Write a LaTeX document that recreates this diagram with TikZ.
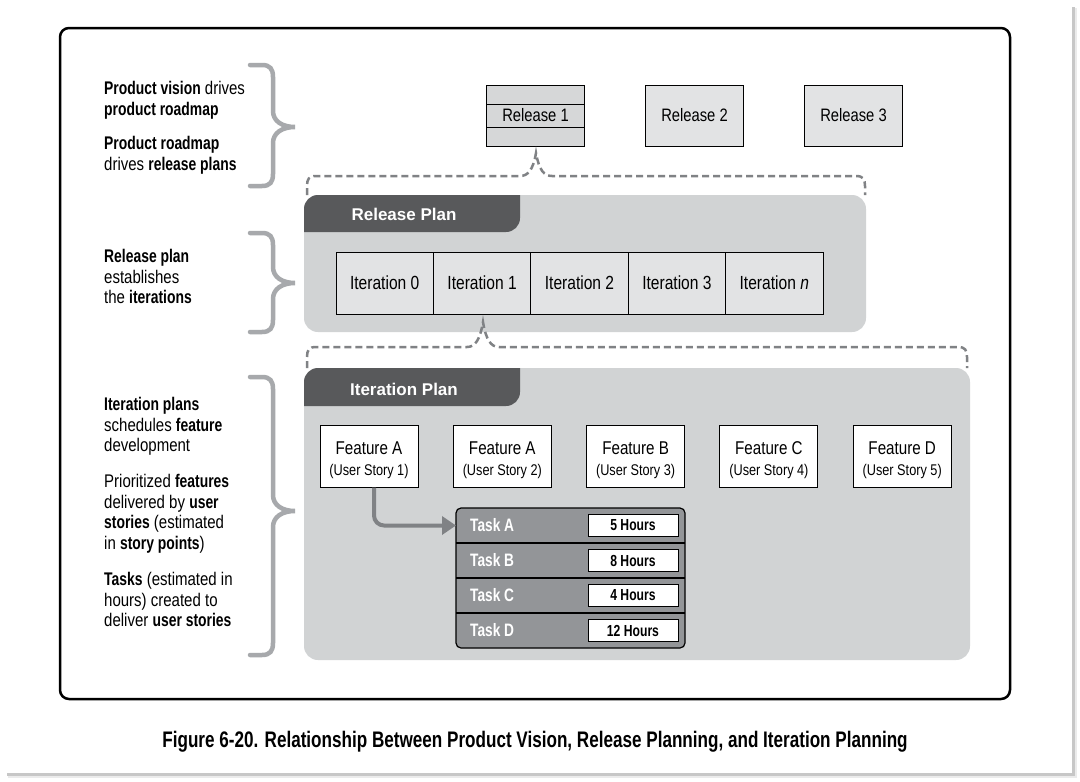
\documentclass[tikz,border=0pt]{standalone}
\usepackage{fontspec}
\setmainfont[FakeStretch=0.82, BoldFeatures={FakeStretch=0.76}]{Liberation Sans}
\newfontfamily\headfont{Liberation Sans}
\usetikzlibrary{arrows.meta, positioning}

\definecolor{panelgray}{HTML}{D1D3D4}
\definecolor{tabgray}{HTML}{58595B}
\definecolor{bracegray}{HTML}{A7A9AC}
\definecolor{dashgray}{HTML}{808285}
\definecolor{lightbox}{HTML}{E2E3E4}
\definecolor{relgray}{HTML}{D6D7D8}
\definecolor{taskgray}{HTML}{939598}

\begin{document}
\begin{tikzpicture}[x=1pt, y=-1pt, >=Stealth,
  note/.style={anchor=north west, align=left, inner sep=0pt, font=\fontsize{18.3}{20.5}\selectfont},
  sidebrace/.style={draw=bracegray, line width=4.5pt, line cap=round},
  dashbrace/.style={draw=dashgray, line width=2.5pt, dash pattern=on 7pt off 4pt},
  panel/.style={fill=panelgray, rounded corners=14pt},
  tabtitle/.style={text=white, font=\headfont\bfseries\fontsize{17}{20}\selectfont},
  relbox/.style={draw, line width=1pt, fill=lightbox, minimum width=98pt, minimum height=61pt, font=\fontsize{18}{20}\selectfont},
  itercell/.style={draw, line width=1pt, fill=lightbox, minimum width=97.4pt, minimum height=62pt, inner sep=0pt, outer sep=0pt, font=\fontsize{19}{20}\selectfont},
  feature/.style={draw, line width=1pt, fill=white, minimum width=98pt, minimum height=62pt, align=center, inner sep=0pt, font=\fontsize{18.5}{20}\selectfont},
  taskrow/.style={minimum width=229pt, minimum height=35pt, inner sep=0pt, outer sep=0pt},
  tasklabel/.style={anchor=west, text=white, inner sep=0pt, font=\bfseries\fontsize{18}{20}\selectfont},
  hours/.style={draw, line width=1pt, fill=white, minimum width=90pt, minimum height=22pt, inner sep=0pt, font=\bfseries\fontsize{16}{18}\selectfont},
  flow/.style={draw=dashgray, line width=4pt, rounded corners=10pt, -{Triangle[length=14pt, width=18pt]}}]

  % Page with its drop shadow
  \useasboundingbox[fill=white] (0,0) rectangle (1080,782);
  \fill[black!8] (8,8) rectangle (1077,778);
  \fill[black!22] (7,7) rectangle (1075,776);
  \fill[white] (5,5) rectangle (1072,773);

  % Outer frame
  \draw[line width=2.5pt, rounded corners=9pt] (60,28) rectangle (1010,699);

  % Notes on the left, each with its gray brace
  \node[note] (vision) at (104,81.5) {\textbf{Product vision} drives\\\textbf{product roadmap}};
  \node[note] (roadmap) at (104,136.5) {\textbf{Product roadmap}\\drives \textbf{release plans}};
  \node[note] (relnote) at (104,249.5) {\textbf{Release plan}\\establishes\\the \textbf{iterations}};
  \node[note] (iternote) at (104,397.5) {\textbf{Iteration plans}\\schedules \textbf{feature}\\development};
  \node[note] (featnote) at (104,474.5) {Prioritized \textbf{features}\\delivered by \textbf{user}\\\textbf{stories} (estimated\\in \textbf{story points})};
  \node[note] (tasknote) at (104,572.5) {\textbf{Tasks} (estimated in\\hours) created to\\deliver \textbf{user stories}};

  \foreach \top/\mid/\bot in {65/127/186, 233/283/332, 377/511/655}
    \draw[sidebrace] (250,\top) -- (262,\top) .. controls (270,\top) and (273,{\top+4}) .. (273,{\top+12})
      -- (273,{\mid-16}) .. controls (273,{\mid-6}) and (282,\mid) .. (295,\mid)
      .. controls (282,\mid) and (273,{\mid+6}) .. (273,{\mid+16})
      -- (273,{\bot-12}) .. controls (273,{\bot-4}) and (270,\bot) .. (262,\bot) -- (250,\bot);

  % Releases
  \node[relbox, fill=relgray] (rel1) at (535.5,115.5) {Release 1};
  \node[relbox, right=60pt of rel1] (rel2) {Release 2};
  \node[relbox, right=60pt of rel2] (rel3) {Release 3};
  \draw[line width=1pt] ([yshift=-20pt]rel1.north west) -- ([yshift=-20pt]rel1.north east);
  \draw[line width=1pt] ([yshift=19pt]rel1.south west) -- ([yshift=19pt]rel1.south east);

  % Release plan panel
  \fill[panel] (304,195) rectangle (866,332);
  \begin{scope}
    \clip[rounded corners=14pt] (304,195) rectangle (866,332);
    \fill[tabgray, rounded corners=14pt] (280,170) rectangle (520,232);
  \end{scope}
  \node[tabtitle] (reltitle) at (404,214) {Release Plan};
  \draw[dashbrace] (307,195) -- (307,186) .. controls (307,179) and (309,176) .. (316,176) -- (520,176)
    .. controls (528,176) and (533,170) .. (536,153) .. controls (539,170) and (544,176) .. (552,176)
    -- (856,176) .. controls (863,176) and (865,179) .. (865,186) -- (865,195);

  \node[itercell] (it0) at (384.7,283) {Iteration 0};
  \node[itercell, right=0pt of it0] (it1) {Iteration 1};
  \node[itercell, right=0pt of it1] (it2) {Iteration 2};
  \node[itercell, right=0pt of it2] (it3) {Iteration 3};
  \node[itercell, right=0pt of it3] (itn) {Iteration \textit{n}};

  % Iteration plan panel
  \fill[panel] (304,368) rectangle (970,660);
  \begin{scope}
    \clip[rounded corners=14pt] (304,368) rectangle (970,660);
    \fill[tabgray, rounded corners=14pt] (280,340) rectangle (520,406);
  \end{scope}
  \node[tabtitle] (itertitle) at (404,389) {Iteration Plan};
  \draw[dashbrace] (307,368) -- (307,357) .. controls (307,350) and (309,347) .. (316,347) -- (467,347)
    .. controls (475,347) and (480,340) .. (483,322) .. controls (486,340) and (491,347) .. (499,347)
    -- (958,347) .. controls (965,347) and (967,350) .. (967,357) -- (967,368);

  \node[feature] (featA) at (369,456) {\rule{0pt}{21pt}Feature A\\[1pt]{\fontsize{15.5}{17}\selectfont(User Story 1)}};
  \node[feature, right=34.3pt of featA] (featA2) {\rule{0pt}{21pt}Feature A\\[1pt]{\fontsize{15.5}{17}\selectfont(User Story 2)}};
  \node[feature, right=34.3pt of featA2] (featB) {\rule{0pt}{21pt}Feature B\\[1pt]{\fontsize{15.5}{17}\selectfont(User Story 3)}};
  \node[feature, right=34.3pt of featB] (featC) {\rule{0pt}{21pt}Feature C\\[1pt]{\fontsize{15.5}{17}\selectfont(User Story 4)}};
  \node[feature, right=34.3pt of featC] (featD) {\rule{0pt}{21pt}Feature D\\[1pt]{\fontsize{15.5}{17}\selectfont(User Story 5)}};

  % Tasks of the first user story
  \node[draw, line width=1.2pt, fill=taskgray, rounded corners=5pt, minimum width=229pt, minimum height=140pt] (tasks) at (570.5,578) {};
  \foreach \t/\h [count=\i] in {A/5, B/8, C/4, D/12} {
    \node[taskrow] (task\t) at (570.5,{490.5+35*\i}) {};
    \node[tasklabel] (label\t) at ([xshift=14pt]task\t.west) {Task \t};
    \node[hours] (hours\t) at ([xshift=-52pt]task\t.east) {\h{} Hours};
  }
  \foreach \t in {A,B,C}
    \draw[line width=2pt] (task\t.south west) -- (task\t.south east);

  \draw[flow] ([xshift=5pt]featA.south) |- (taskA.west);

  % Caption
  \node[font=\bfseries\fontsize{22.5}{26}\selectfont] (caption) at (535,742) {Figure 6-20. Relationship Between Product Vision, Release Planning, and Iteration Planning};

\end{tikzpicture}
\end{document}
